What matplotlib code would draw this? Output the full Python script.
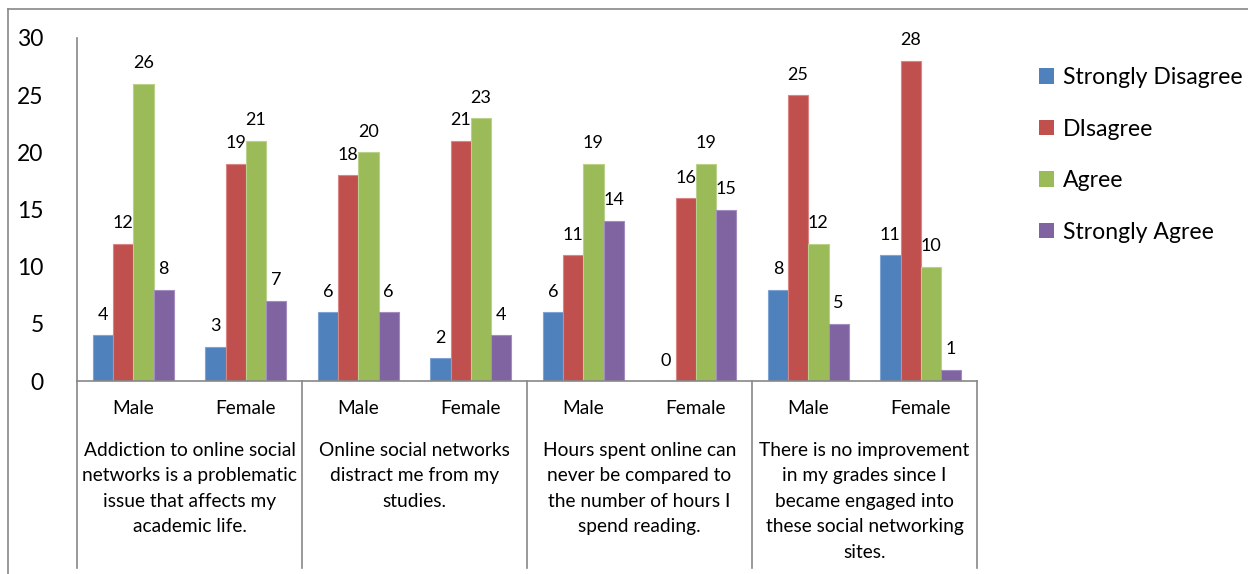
import numpy as np
import matplotlib
matplotlib.use("Agg")
import matplotlib.pyplot as plt
from matplotlib.lines import Line2D
from matplotlib.patches import Patch

plt.rcParams['font.family'] = ['Lato', 'DejaVu Sans']

# data
genders = ["Male", "Female"] * 4
statements = [
    "Addiction to online social\nnetworks is a problematic\nissue that affects my\nacademic life.",
    "Online social networks\ndistract me from my\nstudies.",
    "Hours spent online can\nnever be compared to\nthe number of hours I\nspend reading.",
    "There is no improvement\nin my grades since I\nbecame engaged into\nthese social networking\nsites.",
]
series_names = ["Strongly Disagree", "DIsagree", "Agree", "Strongly Agree"]
strongly_disagree = [4, 3, 6, 2, 6, 0, 8, 11]
disagree = [12, 19, 18, 21, 11, 16, 25, 28]
agree = [26, 21, 20, 23, 19, 19, 12, 10]
strongly_agree = [8, 7, 6, 4, 14, 15, 5, 1]

colors = ['#4F81BD', '#C0504D', '#9BBB59', '#8064A2']
edges = ['#7FA3D3', '#D98583', '#B9D18A', '#A38DBF']

fig = plt.figure(figsize=(12.48, 5.74), dpi=100)
ax = fig.add_axes([77/1248, 1 - 381/574, 900/1248, 343/574])

x = np.arange(len(genders))
w = 0.18
all_series = [strongly_disagree, disagree, agree, strongly_agree]
for i, vals in enumerate(all_series):
    xs = x + (i - 1.5) * w
    ax.bar(xs, vals, width=w, color=colors[i], edgecolor=edges[i], linewidth=0.8)
    for xx, v in zip(xs, vals):
        ax.annotate(str(v), (xx, v), xytext=(0, 9), textcoords='offset points',
                    ha='center', va='bottom', fontsize=13)

ax.set_xlim(-0.5, 7.5)
ax.set_ylim(0, 30)
ax.set_yticks([0, 5, 10, 15, 20, 25, 30])
ax.tick_params(axis='y', length=0, labelsize=16.5, pad=24)
ax.set_xticks([])
for s in ['top', 'right']:
    ax.spines[s].set_visible(False)
for s in ['left', 'bottom']:
    ax.spines[s].set_color('#888888')
    ax.spines[s].set_linewidth(1.2)

# category axis labels and separators
trans = ax.get_xaxis_transform()
bottom = -(568 - 381) / 343
for b in [-0.5, 1.5, 3.5, 5.5, 7.5]:
    ax.plot([b, b], [0, bottom], transform=trans, color='#888888', lw=1.2, clip_on=False)
for xx, g in zip(x, genders):
    ax.text(xx, -28 / 343, g, transform=trans, ha='center', va='center', fontsize=13.8)
for k, st in enumerate(statements):
    ax.text(2 * k + 0.5, -61 / 343, st, transform=trans, ha='center', va='top',
            fontsize=13.8, linespacing=1.6)

# legend
handles = [Patch(facecolor=c) for c in colors]
fig.legend(handles, series_names, loc='upper left', bbox_to_anchor=(1030/1248, 1 - 58/574),
           frameon=False, fontsize=16.6, labelspacing=1.32, handlelength=0.66, handleheight=0.66,
           handletextpad=0.35, borderaxespad=0)

# outer frame lines
fig.add_artist(Line2D([8/1248, 1], [1 - 9/574, 1 - 9/574], color='#888888', lw=1.2))
fig.add_artist(Line2D([8/1248, 8/1248], [0, 1 - 9/574], color='#888888', lw=1.2))

fig.savefig("out.png", dpi=100)
